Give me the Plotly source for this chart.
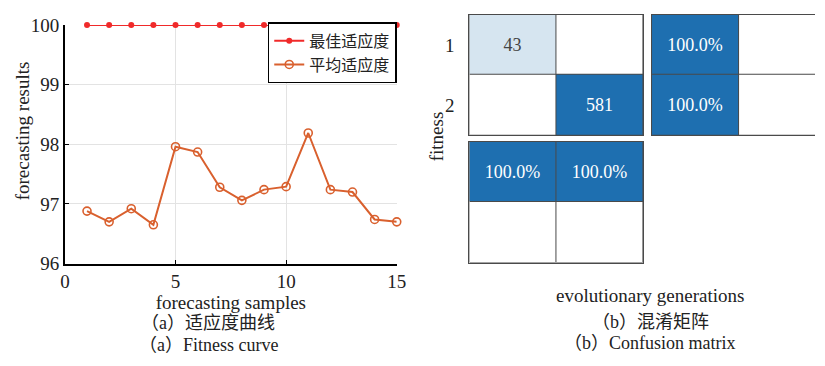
import plotly.graph_objects as go

W, H = 825, 366

# ---- (a) fitness curve data ----
samples = list(range(1, 16))
best_fitness = [100.0] * 15
mean_fitness = [96.88, 96.70, 96.92, 96.65, 97.96, 97.87, 97.28, 97.06,
                97.24, 97.29, 98.19, 97.24, 97.20, 96.74, 96.70]
x_ticks = [0, 5, 10, 15]
y_ticks = [96, 97, 98, 99, 100]

# ---- (b) confusion matrix data ----
class_labels = ["1", "2"]
conf_counts = [[43, 0], [0, 581]]
row_summary = [[100.0, 0.0], [100.0, 0.0]]   # per true class: correct / incorrect
col_summary = [[100.0, 100.0], [0.0, 0.0]]   # per predicted class: correct / incorrect

SERIF = "Liberation Serif"
MIXED = "Liberation Serif, Noto Sans CJK SC"
CJK = "Noto Sans CJK SC"
DARK_BLUE = "#1e6fb0"
LIGHT_BLUE = "#d6e5f0"
BORDER = "#4a4a4a"


def px_x(p):
    return p / W


def px_y(p):
    return 1 - p / H


fig = go.Figure()

fig.add_trace(go.Scatter(
    x=samples, y=best_fitness, name="最佳适应度", mode="lines+markers",
    line=dict(color="#f02a2a", width=2),
    marker=dict(symbol="circle", size=6, color="#f02a2a"),
    cliponaxis=False, xaxis="x", yaxis="y"))
fig.add_trace(go.Scatter(
    x=samples, y=mean_fitness, name="平均适应度", mode="lines+markers",
    line=dict(color="#d9602e", width=2),
    marker=dict(symbol="circle-open", size=8, color="#d9602e", line=dict(width=1.6)),
    cliponaxis=False, xaxis="x", yaxis="y"))


def cell_text(rows, fmt):
    return [[fmt(v) if v else "" for v in r] for r in rows]


max_count = max(max(r) for r in conf_counts)
min_nonzero = min(v for r in conf_counts for v in r if v)
cell_font = dict(family=SERIF, size=18)

fig.add_trace(go.Heatmap(
    z=conf_counts, x=[0, 1], y=[0, 1],
    text=cell_text(conf_counts, lambda v: f"{v}"), texttemplate="%{text}",
    textfont=cell_font,
    colorscale=[[0, "#ffffff"], [min_nonzero / max_count, LIGHT_BLUE], [1, DARK_BLUE]],
    zmin=0, zmax=max_count, showscale=False, xgap=1, ygap=1,
    hoverinfo="skip", xaxis="x2", yaxis="y2"))

pct_scale = [[0, "#ffffff"], [1, DARK_BLUE]]
fig.add_trace(go.Heatmap(
    z=row_summary, x=[0, 1], y=[0, 1],
    text=cell_text(row_summary, lambda v: f"{v:.1f}%"), texttemplate="%{text}",
    textfont=cell_font,
    colorscale=pct_scale, zmin=0, zmax=100, showscale=False, xgap=1, ygap=1,
    hoverinfo="skip", xaxis="x3", yaxis="y3"))
fig.add_trace(go.Heatmap(
    z=col_summary, x=[0, 1], y=[0, 1],
    text=cell_text(col_summary, lambda v: f"{v:.1f}%"), texttemplate="%{text}",
    textfont=cell_font,
    colorscale=pct_scale, zmin=0, zmax=100, showscale=False, xgap=1, ygap=1,
    hoverinfo="skip", xaxis="x4", yaxis="y4"))

tickfont = dict(family=SERIF, size=19, color="#222")
cell_w = (650 - 473) / 2

fig.update_layout(
    width=W, height=H, margin=dict(l=0, r=0, t=0, b=0),
    paper_bgcolor="white", plot_bgcolor="white",
    font=dict(family=SERIF, size=18, color="#222"),
    showlegend=True,
    legend=dict(x=px_x(399), y=px_y(13), xanchor="right", yanchor="top",
                bgcolor="white", bordercolor="black", borderwidth=1.5,
                font=dict(family=CJK, size=16, color="#222"),
                itemwidth=30, tracegroupgap=0),
    xaxis=dict(domain=[px_x(61), px_x(399)], range=[0, 15], tickvals=x_ticks,
               showgrid=True, gridcolor="#e3e3e3", gridwidth=1,
               showline=True, linecolor="black", linewidth=1.8,
               ticks="inside", ticklen=4, tickcolor="black", tickfont=tickfont,
               zeroline=False, anchor="y",
               title=dict(text="forecasting samples", font=dict(family=SERIF, size=19),
                          standoff=0)),
    yaxis=dict(domain=[px_y(269), px_y(16)], range=[96, 100], tickvals=y_ticks,
               showgrid=True, gridcolor="#e3e3e3", gridwidth=1,
               showline=True, linecolor="black", linewidth=1.8,
               ticks="inside", ticklen=4, tickcolor="black", tickfont=tickfont,
               zeroline=False, anchor="x"),
    xaxis2=dict(domain=[px_x(473), px_x(650)], range=[-0.5, 1.5],
                showticklabels=False, ticks="", showgrid=False, zeroline=False,
                showline=True, mirror=True, linecolor=BORDER, linewidth=1, anchor="y2"),
    yaxis2=dict(domain=[px_y(133), px_y(5)], range=[1.5, -0.5],
                tickvals=[0, 1], ticktext=class_labels, tickfont=tickfont, ticks="",
                ticklabelstandoff=10,
                showgrid=False, zeroline=False,
                showline=True, mirror=True, linecolor=BORDER, linewidth=1, anchor="x2"),
    xaxis3=dict(domain=[px_x(659), 1.0], range=[-0.5, -0.5 + (W - 659) / cell_w],
                showticklabels=False, ticks="", showgrid=False, zeroline=False,
                showline=True, mirror=True, linecolor=BORDER, linewidth=1, anchor="y3"),
    yaxis3=dict(domain=[px_y(133), px_y(5)], range=[1.5, -0.5],
                showticklabels=False, ticks="", showgrid=False, zeroline=False,
                showline=True, mirror=False, linecolor=BORDER, linewidth=1, anchor="x3"),
    xaxis4=dict(domain=[px_x(473), px_x(650)], range=[-0.5, 1.5],
                showticklabels=False, ticks="", showgrid=False, zeroline=False,
                showline=True, mirror=True, linecolor=BORDER, linewidth=1, anchor="y4"),
    yaxis4=dict(domain=[px_y(268), px_y(140)], range=[1.5, -0.5],
                showticklabels=False, ticks="", showgrid=False, zeroline=False,
                showline=True, mirror=True, linecolor=BORDER, linewidth=1, anchor="x4"),
)

# dark backing under each matrix so the cell gaps read as borders
for ax in ["x2", "x3", "x4"]:
    ya = "y" + ax[1:]
    fig.add_shape(type="rect", xref=f"{ax} domain", yref=f"{ya} domain",
                  x0=0, x1=1, y0=0, y1=1, fillcolor=BORDER, line_width=0, layer="below")

texts = [
    ("forecasting results", 18, 128, -90, SERIF, 19),
    ("fitness", 439, 134, -90, SERIF, 19),
    ("evolutionary generations", 657, 303, 0, SERIF, 19),
    ("（a）适应度曲线", 207, 332, 0, MIXED, 18),
    ("（a）Fitness curve", 207, 355, 0, MIXED, 18),
    ("（b）混淆矩阵", 657, 331, 0, MIXED, 18),
    ("（b）Confusion matrix", 657, 353, 0, MIXED, 18),
]
for txt, x, y, ang, fam, size in texts:
    fig.add_annotation(text=txt, x=px_x(x), y=px_y(y), xref="paper", yref="paper",
                       xanchor="center", yanchor="middle", textangle=ang,
                       showarrow=False, font=dict(family=fam, size=size, color="#222"))

fig.write_html("out.html")
